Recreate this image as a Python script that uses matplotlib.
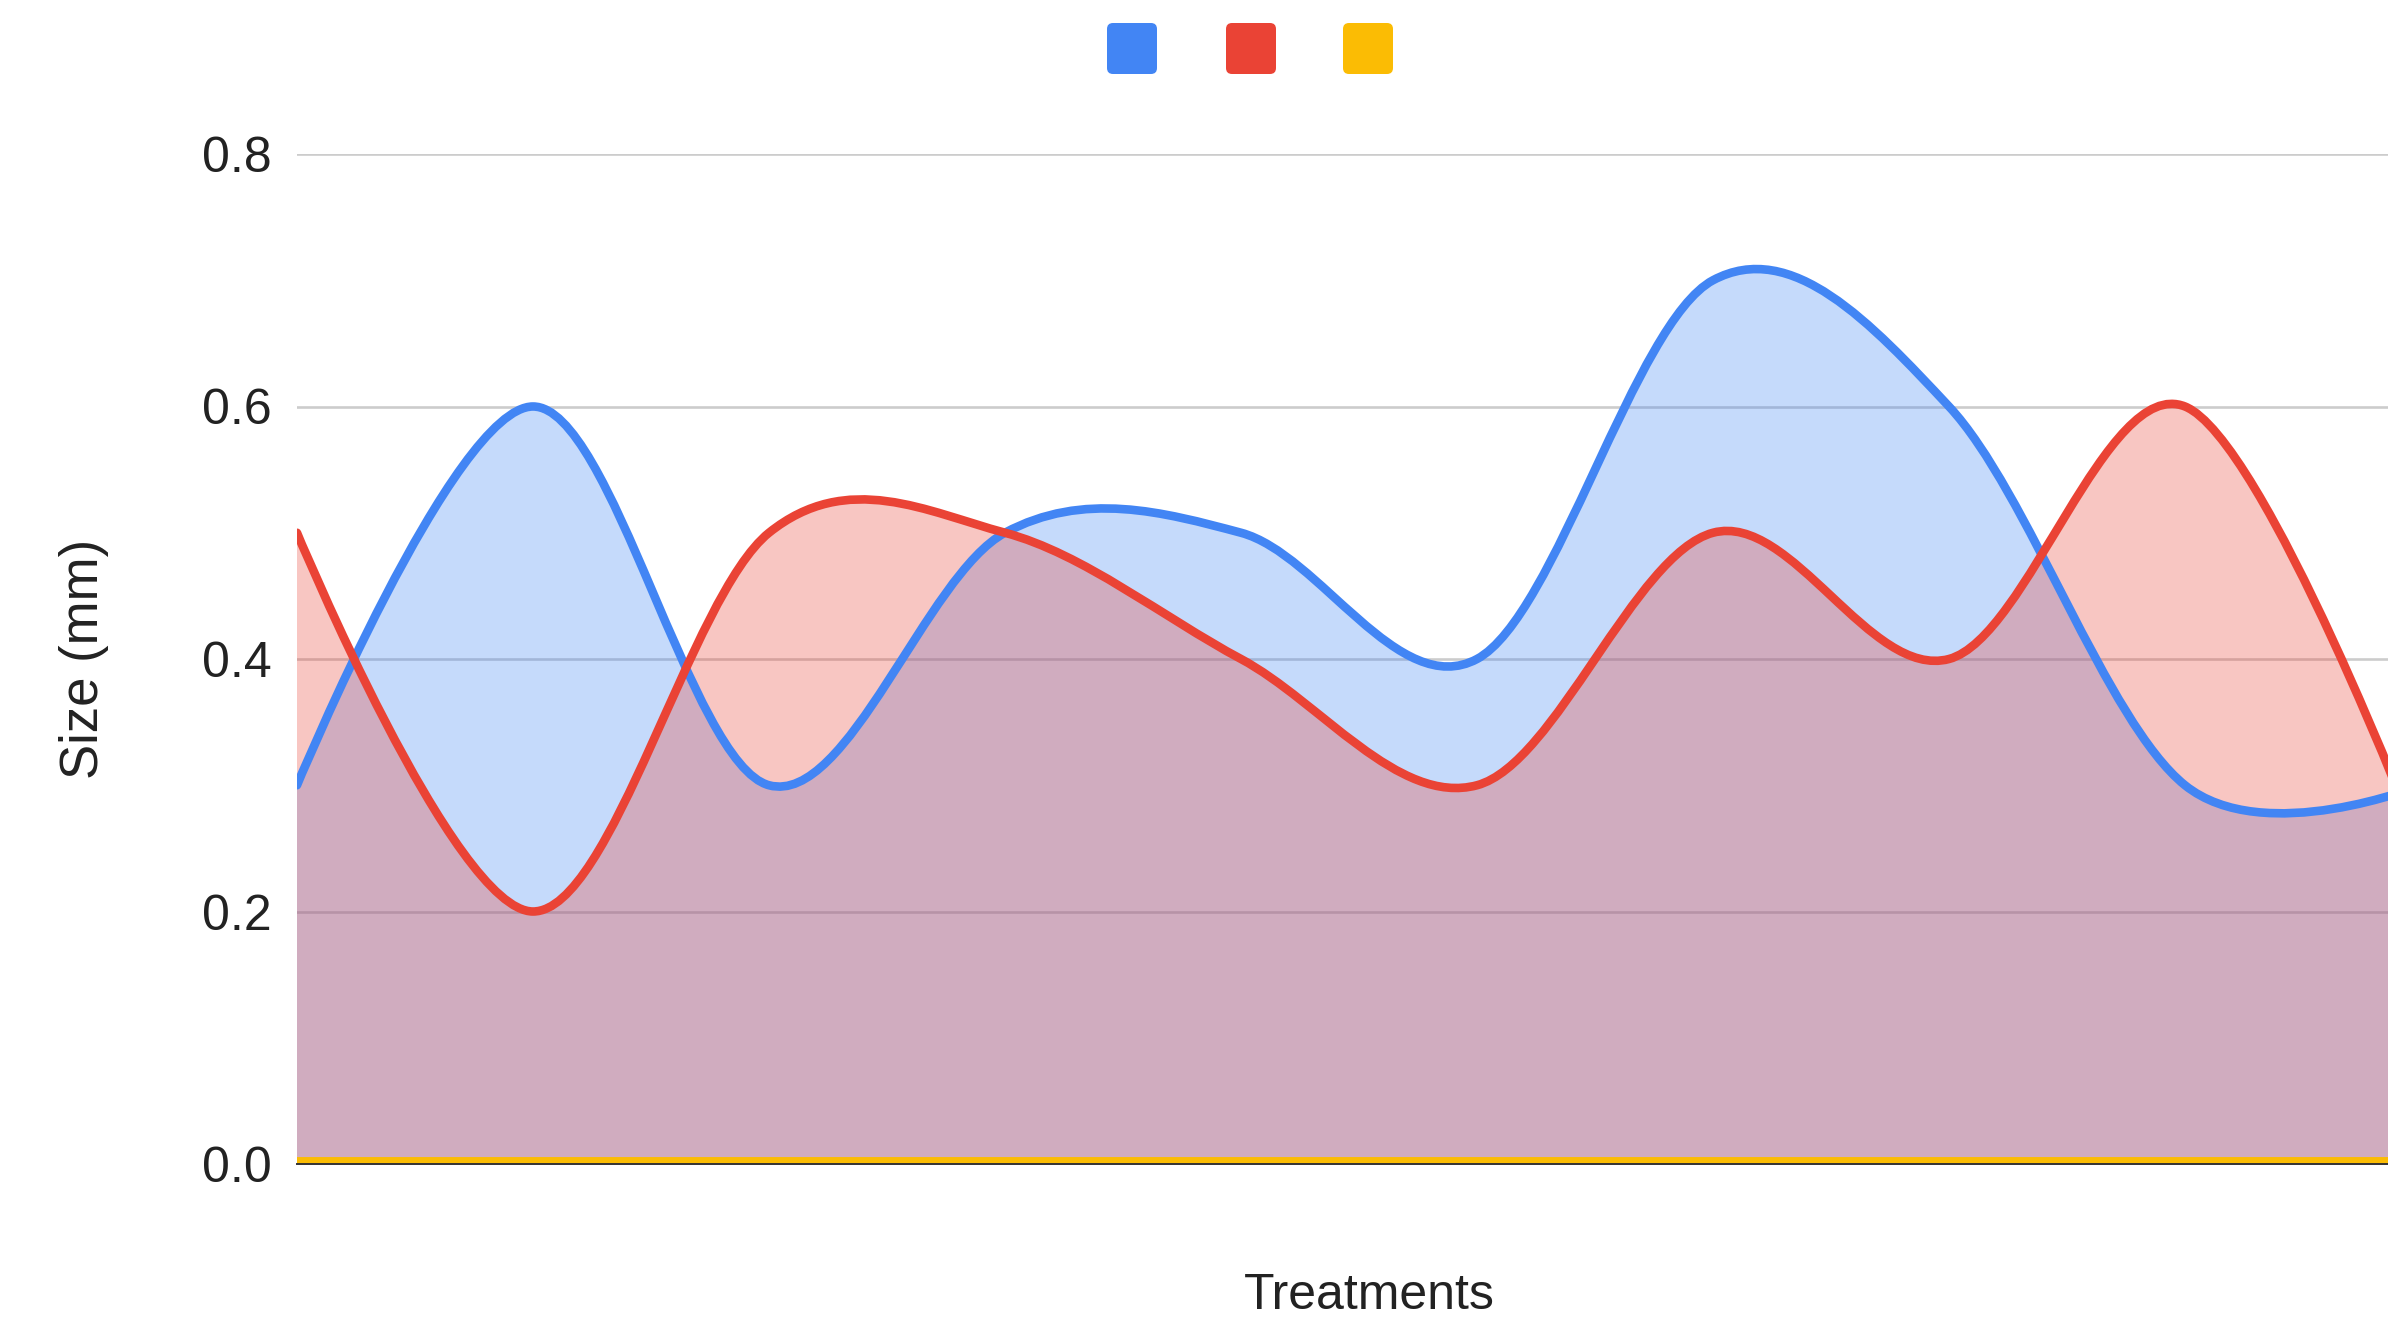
import numpy as np
import matplotlib
matplotlib.use("Agg")
import matplotlib.pyplot as plt
from matplotlib.path import Path
from matplotlib.patches import PathPatch, FancyBboxPatch

plt.rcParams['font.family'] = ['Liberation Sans', 'DejaVu Sans']

# ---- data -------------------------------------------------------------
treatments = list(range(10))            # category slots along the x axis
size_blue = [0.3, 0.6, 0.3, 0.5, 0.5, 0.4, 0.7, 0.6, 0.3, 0.3]
size_red = [0.5, 0.2, 0.5, 0.5, 0.4, 0.3, 0.5, 0.4, 0.6, 0.25]
size_yellow = [0.0] * 10
y_ticks = [0.0, 0.2, 0.4, 0.6, 0.8]

series = [
    (size_blue, "#4285F4"),
    (size_red, "#EA4335"),
    (size_yellow, "#FBBC04"),
]

W, H = 2388, 1317
fig = plt.figure(figsize=(W / 100, H / 100), dpi=100)
fig.patch.set_facecolor("white")

# plot area (right end runs past the canvas edge)
left, right = 297, 2421
y_zero, y_top = 1164, 154
ax = fig.add_axes([left / W, 1 - y_zero / H, (right - left) / W, (y_zero - y_top) / H])
ax.set_xlim(treatments[0], treatments[-1])
ax.set_ylim(0, 0.8)
for s in ax.spines.values():
    s.set_visible(False)
ax.set_xticks([])
ax.set_yticks(y_ticks)
ax.set_yticklabels([f"{v:.1f}" for v in y_ticks], fontsize=36, color="#222222")
ax.tick_params(axis="y", length=0, pad=18)
ax.grid(axis="y", color="#cccccc", lw=1.9)
ax.set_axisbelow(True)


def smooth_path(xs, ys, close=False):
    """Cubic Bezier through the points (Catmull-Rom style control points)."""
    pts = np.column_stack([xs, ys]).astype(float)
    n = len(pts)
    verts = [pts[0]]
    codes = [Path.MOVETO]
    for i in range(n - 1):
        c1 = pts[i] + (pts[i + 1] - pts[i - 1]) / 6 if i > 0 else pts[i]
        c2 = pts[i + 1] - (pts[i + 2] - pts[i]) / 6 if i + 1 < n - 1 else pts[i + 1]
        verts += [c1, c2, pts[i + 1]]
        codes += [Path.CURVE4] * 3
    if close:
        verts += [(xs[-1], 0.0), (xs[0], 0.0), pts[0]]
        codes += [Path.LINETO, Path.LINETO, Path.CLOSEPOLY]
    return Path(verts, codes)


# areas first, then lines on top
for vals, col in series:
    ax.add_patch(PathPatch(smooth_path(treatments, vals, close=True),
                           facecolor=col, alpha=0.3, edgecolor="none", zorder=2))
for vals, col in series:
    lw = 6.2 if col != "#FBBC04" else 10.0
    ax.add_patch(PathPatch(smooth_path(treatments, vals), facecolor="none",
                           edgecolor=col, lw=lw, zorder=3, capstyle="round",
                           joinstyle="round"))

# baseline
ax.axhline(0, color="#333333", lw=1.4, zorder=4, clip_on=False)

# axis titles
fig.text(84 / W, 1 - 659 / H, "Size (mm)", rotation=90, ha="center", va="center",
         fontsize=38, color="#222222")
fig.text(1369 / W, 1 - 1296 / H, "Treatments", ha="center", va="center",
         fontsize=36, color="#222222")

# legend swatches (pixel-space overlay)
ov = fig.add_axes([0, 0, 1, 1], zorder=5)
ov.set_xlim(0, W)
ov.set_ylim(H, 0)
ov.axis("off")
for (vals, col), x0 in zip(series, [1107, 1226, 1343]):
    ov.add_patch(FancyBboxPatch((x0, 23), 50, 51,
                                boxstyle="round,pad=0,rounding_size=6",
                                facecolor=col, edgecolor="none"))

fig.savefig("out.png", dpi=100, facecolor="white")
